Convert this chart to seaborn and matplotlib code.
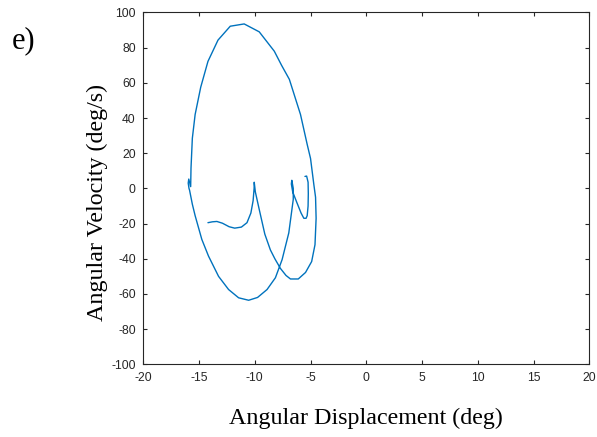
import matplotlib
matplotlib.use("Agg")
import matplotlib.pyplot as plt
import seaborn as sns
import pandas as pd

# Phase-plane trajectory: angular displacement (deg) vs angular velocity (deg/s)
displacement = [
    -14.2, -13.8, -13.4, -12.9, -12.3, -11.8, -11.2, -10.7, -10.35, -10.15, -10.06, -10.05,
    -9.95, -9.6, -9.1, -8.6, -8.2, -7.7, -7.2, -6.8, -6.1, -5.45, -4.9, -4.6, -4.5,
    -4.55, -4.7, -5.0, -5.3, -5.9, -6.9, -7.6, -8.25, -9.6, -10.95, -12.2, -13.3,
    -14.2, -14.85, -15.35, -15.6, -15.72, -15.75,
    -15.92, -15.97, -15.9,
    -15.85, -15.6, -15.35, -14.75, -14.15, -13.25, -12.35, -11.45, -10.55, -9.75,
    -8.9, -8.15, -7.55, -6.95, -6.55, -6.55, -6.68,
    -6.72, -6.6, -6.23, -5.85, -5.6, -5.4, -5.3, -5.22, -5.2, -5.22, -5.35, -5.5,
]
velocity = [
    -19.5, -19.0, -18.8, -19.8, -21.8, -22.6, -22.0, -19.5, -14.0, -7.0, 0.0, 3.5,
    -2.0, -12.0, -26.0, -35.0, -40.0, -45.5, -49.5, -51.5, -51.5, -47.8, -41.6, -32.0, -17.0,
    -5.0, 2.0, 17.0, 25.0, 42.0, 62.0, 70.0, 78.0, 89.0, 93.5, 92.2, 84.3,
    72.2, 57.5, 42.0, 28.5, 11.5, 1.0,
    5.3, 3.0, 0.0,
    -1.0, -9.0, -15.5, -29.0, -38.5, -50.0, -57.5, -62.2, -63.6, -62.0,
    -57.5, -50.8, -40.5, -25.3, -6.3, 0.0, 4.6,
    2.5, -2.0, -8.0, -14.0, -17.0, -17.0, -15.5, -10.0, -3.0, 3.5, 7.0, 6.8,
]
step = list(range(len(displacement)))

x_ticks = [-20, -15, -10, -5, 0, 5, 10, 15, 20]
y_ticks = [-100, -80, -60, -40, -20, 0, 20, 40, 60, 80, 100]

df = pd.DataFrame({"step": step, "disp": displacement, "vel": velocity})

sns.set_theme(style="white")
plt.rcParams["font.family"] = ["Liberation Sans", "DejaVu Sans"]

fig = plt.figure(figsize=(5.97, 4.37), dpi=100)
ax = fig.add_axes([0.2400, 0.1664, 0.7471, 0.8050])

sns.lineplot(data=df, x="disp", y="vel", sort=False, estimator=None,
             color="#0072BD", linewidth=1.0, ax=ax)

ax.set_xlim(-20, 20)
ax.set_ylim(-100, 100)
ax.set_xticks(x_ticks)
ax.set_yticks(y_ticks)
ax.set_xticklabels([str(t) for t in x_ticks])
ax.set_yticklabels([str(t) for t in y_ticks])

axis_color = "#262626"
for side in ["left", "right", "top", "bottom"]:
    ax.spines[side].set_visible(True)
    ax.spines[side].set_color(axis_color)
    ax.spines[side].set_linewidth(0.8)

ax.tick_params(axis="both", which="major", direction="in", length=3.2, width=0.8,
               color=axis_color, labelcolor="#262626", labelsize=8.7, pad=5.5,
               top=True, right=True, bottom=True, left=True)

serif = ["Liberation Serif", "DejaVu Serif"]
ax.set_xlabel("Angular Displacement (deg)", fontsize=17.3, family=serif, color="black")
ax.set_ylabel("Angular Velocity (deg/s)", fontsize=17.3, family=serif, color="black")
ax.xaxis.set_label_coords(0.5, -0.124)
ax.yaxis.set_label_coords(-0.079, 0.46)

fig.text(12 / 597, 1 - 48 / 437, "e)", fontsize=22, family=serif, color="black",
         ha="left", va="baseline")

fig.savefig("out.png", dpi=100)
